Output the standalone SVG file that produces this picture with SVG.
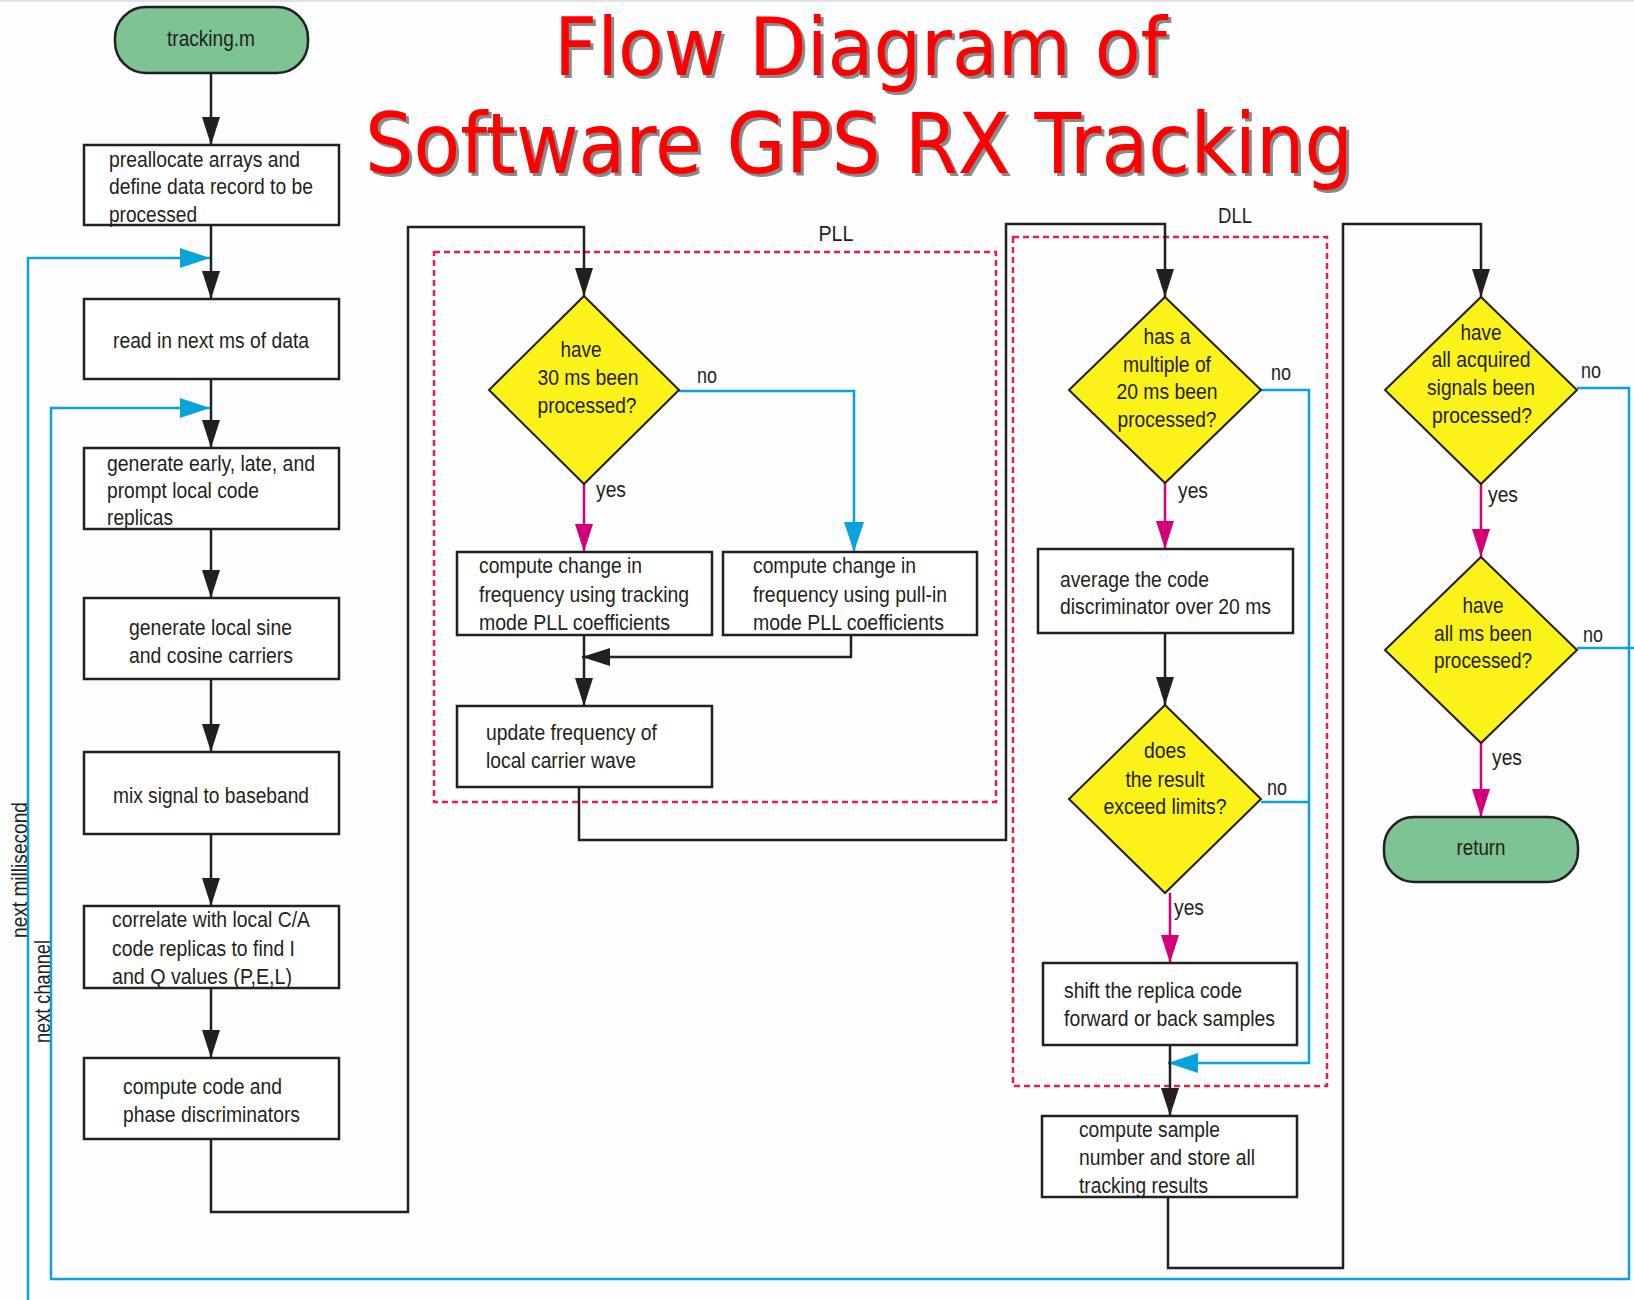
<svg xmlns="http://www.w3.org/2000/svg" width="1634" height="1300" viewBox="0 0 1634 1300">
  <style>
    .box { fill: #ffffff; stroke: #231f20; stroke-width: 2.5; }
    .dia { fill: #fbf21a; stroke: #231f20; stroke-width: 2; }
    .pill { fill: #7dc393; stroke: #231f20; stroke-width: 2.5; }
    .t { font-family: "Liberation Sans", Arial, sans-serif; font-size: 22px; fill: #231f20; }
    .c { text-anchor: middle; }
    .k { fill: none; stroke: #231f20; stroke-width: 2.5; }
    .b { fill: none; stroke: #0aa2da; stroke-width: 2.5; }
    .m { fill: none; stroke: #d4007a; stroke-width: 2.5; }
    .dash { fill: none; stroke: #e3204d; stroke-width: 2.5; stroke-dasharray: 6 4; }
    .title { font-family: "DejaVu Sans", Verdana, sans-serif; }
    .l1 { font-size: 80px; }
    .l2 { font-size: 84px; }
  </style>
  <defs>
    <marker id="ak" markerUnits="userSpaceOnUse" markerWidth="30" markerHeight="20" refX="28" refY="9" orient="auto" overflow="visible">
      <path d="M0,0 L28,9 L0,18 z" fill="#231f20"/>
    </marker>
    <marker id="ab" markerUnits="userSpaceOnUse" markerWidth="32" markerHeight="22" refX="30" refY="10" orient="auto" overflow="visible">
      <path d="M0,0 L30,10 L0,20 z" fill="#0aa2da"/>
    </marker>
    <marker id="am" markerUnits="userSpaceOnUse" markerWidth="30" markerHeight="20" refX="28" refY="9" orient="auto" overflow="visible">
      <path d="M0,0 L28,9 L0,18 z" fill="#d4007a"/>
    </marker>
  </defs>

  <rect x="0" y="0" width="1634" height="1300" fill="#fdfdfd"/>
  <line x1="0" y1="1" x2="1634" y2="1" stroke="#e2e2e2" stroke-width="2"/>

  <!-- title with drop shadow -->
  <g id="title">
    <g fill="#8a8a8a" transform="translate(3,3)">
      <text class="title l1" x="554" y="75" textLength="613" lengthAdjust="spacingAndGlyphs">Flow Diagram of</text>
      <text class="title l2" x="365" y="173" textLength="988" lengthAdjust="spacingAndGlyphs">Software GPS RX Tracking</text>
    </g>
    <g fill="#ff0000">
      <text class="title l1" x="554" y="75" textLength="613" lengthAdjust="spacingAndGlyphs">Flow Diagram of</text>
      <text class="title l2" x="365" y="173" textLength="988" lengthAdjust="spacingAndGlyphs">Software GPS RX Tracking</text>
    </g>
  </g>

  <!-- loop regions -->
  <g id="pll-region">
    <rect class="dash" x="434" y="252" width="562" height="550"/>
    <text class="t c" x="836" y="241" textLength="35" lengthAdjust="spacingAndGlyphs">PLL</text>
  </g>
  <g id="dll-region">
    <rect class="dash" x="1013" y="237" width="314" height="849"/>
    <text class="t c" x="1235" y="223" textLength="34" lengthAdjust="spacingAndGlyphs">DLL</text>
  </g>

  <!-- connectors -->
  <g id="connectors">
    <!-- main column -->
    <path class="k" d="M211,71 V145" marker-end="url(#ak)"/>
    <path class="k" d="M211,225 V299" marker-end="url(#ak)"/>
    <path class="k" d="M211,379 V448" marker-end="url(#ak)"/>
    <path class="k" d="M211,529 V598" marker-end="url(#ak)"/>
    <path class="k" d="M211,679 V752" marker-end="url(#ak)"/>
    <path class="k" d="M211,834 V906" marker-end="url(#ak)"/>
    <path class="k" d="M211,988 V1058" marker-end="url(#ak)"/>
    <path class="k" d="M211,1139 V1212 H408 V227 H584 V296" marker-end="url(#ak)"/>

    <!-- PLL -->
    <path class="m" d="M584,484 V552" marker-end="url(#am)"/>
    <path class="b" d="M679,391 H854 V552" marker-end="url(#ab)"/>
    <path class="k" d="M584,635 V706" marker-end="url(#ak)"/>
    <path class="k" d="M851,635 V657 H582" marker-end="url(#ak)"/>
    <path class="k" d="M579,787 V840 H1006 V224 H1165 V297" marker-end="url(#ak)"/>

    <!-- DLL -->
    <path class="m" d="M1165,483 V549" marker-end="url(#am)"/>
    <path class="b" d="M1261,390 H1309 V1063 H1168" marker-end="url(#ab)"/>
    <path class="b" d="M1261,802 H1309"/>
    <path class="k" d="M1165,633 V705" marker-end="url(#ak)"/>
    <path class="m" d="M1170,893 V963" marker-end="url(#am)"/>
    <path class="k" d="M1170,1045 V1116" marker-end="url(#ak)"/>
    <path class="k" d="M1168,1197 V1268 H1343 V224 H1481 V297" marker-end="url(#ak)"/>

    <!-- end-of-loop checks -->
    <path class="m" d="M1481,484 V557" marker-end="url(#am)"/>
    <path class="m" d="M1481,743 V817" marker-end="url(#am)"/>
    <path class="b" d="M1577,388 H1629 V1279 H51 V408 H210" marker-end="url(#ab)"/>
    <path class="b" d="M1577,648 H1634"/>
    <path class="b" d="M28,1300 V258 H210" marker-end="url(#ab)"/>

    <!-- branch labels -->
    <text class="t" x="697" y="383" textLength="20" lengthAdjust="spacingAndGlyphs">no</text>
    <text class="t" x="596" y="497" textLength="30" lengthAdjust="spacingAndGlyphs">yes</text>
    <text class="t" x="1271" y="380" textLength="20" lengthAdjust="spacingAndGlyphs">no</text>
    <text class="t" x="1178" y="498" textLength="30" lengthAdjust="spacingAndGlyphs">yes</text>
    <text class="t" x="1267" y="795" textLength="20" lengthAdjust="spacingAndGlyphs">no</text>
    <text class="t" x="1174" y="915" textLength="30" lengthAdjust="spacingAndGlyphs">yes</text>
    <text class="t" x="1581" y="378" textLength="20" lengthAdjust="spacingAndGlyphs">no</text>
    <text class="t" x="1488" y="502" textLength="30" lengthAdjust="spacingAndGlyphs">yes</text>
    <text class="t" x="1583" y="642" textLength="20" lengthAdjust="spacingAndGlyphs">no</text>
    <text class="t" x="1492" y="765" textLength="30" lengthAdjust="spacingAndGlyphs">yes</text>
    <text class="t" transform="translate(27,938) rotate(-90)" textLength="136" lengthAdjust="spacingAndGlyphs">next millisecond</text>
    <text class="t" transform="translate(50,1043) rotate(-90)" textLength="103" lengthAdjust="spacingAndGlyphs">next channel</text>
  </g>

  <!-- main column nodes -->
  <g id="start">
    <rect class="pill" x="115" y="7" width="193" height="66" rx="31" ry="31"/>
    <text class="t c" x="211" y="46" textLength="88" lengthAdjust="spacingAndGlyphs">tracking.m</text>
  </g>
  <g id="preallocate">
    <rect class="box" x="84" y="145" width="255" height="80"/>
    <text class="t" x="109" y="167" textLength="191" lengthAdjust="spacingAndGlyphs">preallocate arrays and</text>
    <text class="t" x="109" y="194" textLength="204" lengthAdjust="spacingAndGlyphs">define data record to be</text>
    <text class="t" x="109" y="222" textLength="88" lengthAdjust="spacingAndGlyphs">processed</text>
  </g>
  <g id="read-data">
    <rect class="box" x="84" y="299" width="255" height="80"/>
    <text class="t" x="113" y="348" textLength="196" lengthAdjust="spacingAndGlyphs">read in next ms of data</text>
  </g>
  <g id="code-replicas">
    <rect class="box" x="84" y="448" width="255" height="81"/>
    <text class="t" x="107" y="471" textLength="208" lengthAdjust="spacingAndGlyphs">generate early, late, and</text>
    <text class="t" x="107" y="498" textLength="152" lengthAdjust="spacingAndGlyphs">prompt local code</text>
    <text class="t" x="107" y="525" textLength="66" lengthAdjust="spacingAndGlyphs">replicas</text>
  </g>
  <g id="carriers">
    <rect class="box" x="84" y="598" width="255" height="81"/>
    <text class="t" x="129" y="635" textLength="163" lengthAdjust="spacingAndGlyphs">generate local sine</text>
    <text class="t" x="129" y="663" textLength="164" lengthAdjust="spacingAndGlyphs">and cosine carriers</text>
  </g>
  <g id="mix">
    <rect class="box" x="84" y="752" width="255" height="82"/>
    <text class="t" x="113" y="803" textLength="196" lengthAdjust="spacingAndGlyphs">mix signal to baseband</text>
  </g>
  <g id="correlate">
    <rect class="box" x="84" y="906" width="255" height="82"/>
    <text class="t" x="112" y="927" textLength="198" lengthAdjust="spacingAndGlyphs">correlate with local C/A</text>
    <text class="t" x="112" y="956" textLength="183" lengthAdjust="spacingAndGlyphs">code replicas to find I</text>
    <text class="t" x="112" y="984" textLength="180" lengthAdjust="spacingAndGlyphs">and Q values (P,E,L)</text>
  </g>
  <g id="discriminators">
    <rect class="box" x="84" y="1058" width="255" height="81"/>
    <text class="t" x="123" y="1094" textLength="159" lengthAdjust="spacingAndGlyphs">compute code and</text>
    <text class="t" x="123" y="1122" textLength="177" lengthAdjust="spacingAndGlyphs">phase discriminators</text>
  </g>

  <!-- PLL nodes -->
  <g id="pll-check">
    <polygon class="dia" points="584,296 679,390 584,484 489,390"/>
    <text class="t c" x="581" y="357" textLength="41" lengthAdjust="spacingAndGlyphs">have</text>
    <text class="t c" x="588" y="385" textLength="101" lengthAdjust="spacingAndGlyphs">30 ms been</text>
    <text class="t c" x="587" y="413" textLength="99" lengthAdjust="spacingAndGlyphs">processed?</text>
  </g>
  <g id="pll-tracking">
    <rect class="box" x="457" y="552" width="255" height="83"/>
    <text class="t" x="479" y="573" textLength="163" lengthAdjust="spacingAndGlyphs">compute change in</text>
    <text class="t" x="479" y="602" textLength="210" lengthAdjust="spacingAndGlyphs">frequency using tracking</text>
    <text class="t" x="479" y="630" textLength="191" lengthAdjust="spacingAndGlyphs">mode PLL coefficients</text>
  </g>
  <g id="pll-pullin">
    <rect class="box" x="723" y="552" width="254" height="83"/>
    <text class="t" x="753" y="573" textLength="163" lengthAdjust="spacingAndGlyphs">compute change in</text>
    <text class="t" x="753" y="602" textLength="194" lengthAdjust="spacingAndGlyphs">frequency using pull-in</text>
    <text class="t" x="753" y="630" textLength="191" lengthAdjust="spacingAndGlyphs">mode PLL coefficients</text>
  </g>
  <g id="pll-update">
    <rect class="box" x="457" y="706" width="255" height="81"/>
    <text class="t" x="486" y="740" textLength="171" lengthAdjust="spacingAndGlyphs">update frequency of</text>
    <text class="t" x="486" y="768" textLength="150" lengthAdjust="spacingAndGlyphs">local carrier wave</text>
  </g>

  <!-- DLL nodes -->
  <g id="dll-check">
    <polygon class="dia" points="1165,297 1261,390 1165,483 1069,390"/>
    <text class="t c" x="1167" y="344" textLength="47" lengthAdjust="spacingAndGlyphs">has a</text>
    <text class="t c" x="1167" y="372" textLength="88" lengthAdjust="spacingAndGlyphs">multiple of</text>
    <text class="t c" x="1167" y="399" textLength="101" lengthAdjust="spacingAndGlyphs">20 ms been</text>
    <text class="t c" x="1167" y="427" textLength="99" lengthAdjust="spacingAndGlyphs">processed?</text>
  </g>
  <g id="dll-average">
    <rect class="box" x="1038" y="549" width="255" height="84"/>
    <text class="t" x="1060" y="587" textLength="149" lengthAdjust="spacingAndGlyphs">average the code</text>
    <text class="t" x="1060" y="614" textLength="211" lengthAdjust="spacingAndGlyphs">discriminator over 20 ms</text>
  </g>
  <g id="dll-limits">
    <polygon class="dia" points="1165,705 1261,799 1165,893 1069,799"/>
    <text class="t c" x="1165" y="758" textLength="42" lengthAdjust="spacingAndGlyphs">does</text>
    <text class="t c" x="1165" y="787" textLength="79" lengthAdjust="spacingAndGlyphs">the result</text>
    <text class="t c" x="1165" y="814" textLength="123" lengthAdjust="spacingAndGlyphs">exceed limits?</text>
  </g>
  <g id="dll-shift">
    <rect class="box" x="1043" y="963" width="254" height="82"/>
    <text class="t" x="1064" y="998" textLength="178" lengthAdjust="spacingAndGlyphs">shift the replica code</text>
    <text class="t" x="1064" y="1026" textLength="211" lengthAdjust="spacingAndGlyphs">forward or back samples</text>
  </g>
  <g id="store-results">
    <rect class="box" x="1042" y="1116" width="255" height="81"/>
    <text class="t" x="1079" y="1137" textLength="141" lengthAdjust="spacingAndGlyphs">compute sample</text>
    <text class="t" x="1079" y="1165" textLength="176" lengthAdjust="spacingAndGlyphs">number and store all</text>
    <text class="t" x="1079" y="1193" textLength="129" lengthAdjust="spacingAndGlyphs">tracking results</text>
  </g>

  <!-- loop control nodes -->
  <g id="signals-check">
    <polygon class="dia" points="1481,297 1577,390 1481,484 1385,390"/>
    <text class="t c" x="1481" y="340" textLength="41" lengthAdjust="spacingAndGlyphs">have</text>
    <text class="t c" x="1481" y="367" textLength="99" lengthAdjust="spacingAndGlyphs">all acquired</text>
    <text class="t c" x="1481" y="395" textLength="108" lengthAdjust="spacingAndGlyphs">signals been</text>
    <text class="t c" x="1482" y="423" textLength="100" lengthAdjust="spacingAndGlyphs">processed?</text>
  </g>
  <g id="ms-check">
    <polygon class="dia" points="1481,557 1577,650 1481,743 1385,650"/>
    <text class="t c" x="1483" y="613" textLength="41" lengthAdjust="spacingAndGlyphs">have</text>
    <text class="t c" x="1483" y="641" textLength="98" lengthAdjust="spacingAndGlyphs">all ms been</text>
    <text class="t c" x="1483" y="668" textLength="98" lengthAdjust="spacingAndGlyphs">processed?</text>
  </g>
  <g id="return">
    <rect class="pill" x="1384" y="817" width="194" height="65" rx="30" ry="30"/>
    <text class="t c" x="1481" y="855" textLength="49" lengthAdjust="spacingAndGlyphs">return</text>
  </g>
</svg>
